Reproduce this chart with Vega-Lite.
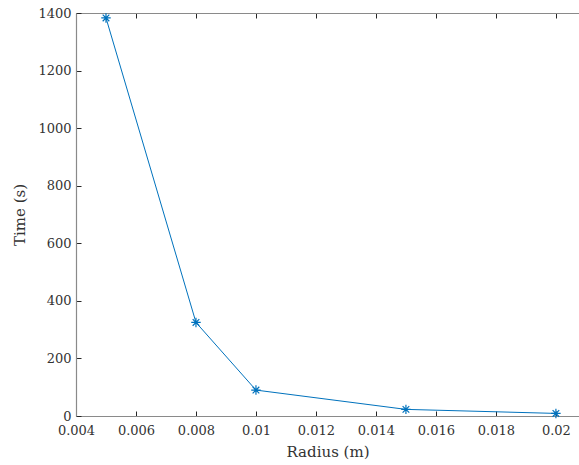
{
  "$schema": "https://vega.github.io/schema/vega-lite/v6.json",
  "width": 503,
  "height": 403,
  "autosize": "none",
  "padding": {"left": 76, "top": 13, "right": 0, "bottom": 49},
  "background": "white",
  "config": {
    "view": {"stroke": null},
    "axis": {
      "grid": false,
      "domainColor": "#8a8a8a",
      "domainWidth": 1.2,
      "tickColor": "#262626",
      "tickSize": -5,
      "labelFont": "DejaVu Serif",
      "labelFontSize": 13,
      "labelColor": "#333333",
      "labelFlush": false,
      "titleFont": "DejaVu Serif",
      "titleFontSize": 15,
      "titleFontWeight": "normal",
      "titleColor": "#333333"
    }
  },
  "data": {
    "values": [
      {"radius": 0.005, "time": 1383},
      {"radius": 0.008, "time": 325},
      {"radius": 0.01, "time": 90},
      {"radius": 0.015, "time": 23},
      {"radius": 0.02, "time": 9}
    ]
  },
  "layer": [
    {
      "mark": {"type": "line", "color": "#0072BD", "strokeWidth": 1, "clip": false},
      "encoding": {
        "x": {
          "field": "radius", "type": "quantitative",
          "scale": {"domain": [0.004, 0.02077], "nice": false, "zero": false},
          "axis": {"title": "Radius (m)", "values": [0.004, 0.006, 0.008, 0.01, 0.012, 0.014, 0.016, 0.018, 0.02], "labelExpr": "datum.value === 0.01 ? '0.01' : datum.value === 0.02 ? '0.02' : format(datum.value, '.3f')", "labelPadding": 13, "labelOverlap": false, "titlePadding": 7, "orient": "bottom"}
        },
        "y": {
          "field": "time", "type": "quantitative",
          "scale": {"domain": [0, 1400], "nice": false},
          "axis": {"title": "Time (s)", "values": [0, 200, 400, 600, 800, 1000, 1200, 1400], "format": "d", "labelPadding": 10, "labelOverlap": false, "titlePadding": 10}
        }
      }
    },
    {
      "mark": {
        "type": "point",
        "shape": "M-1,0L1,0M0,-1L0,1M-0.7,-0.7L0.7,0.7M-0.7,0.7L0.7,-0.7",
        "filled": false,
        "color": "#0072BD",
        "size": 90,
        "strokeWidth": 1.2,
        "opacity": 1,
        "clip": false
      },
      "encoding": {
        "x": {
          "field": "radius", "type": "quantitative",
          "axis": {"orient": "top", "title": null, "labels": false, "values": [0.004, 0.006, 0.008, 0.01, 0.012, 0.014, 0.016, 0.018, 0.02]}
        },
        "y": {"field": "time", "type": "quantitative"}
      }
    }
  ],
  "resolve": {"axis": {"x": "independent"}}
}
